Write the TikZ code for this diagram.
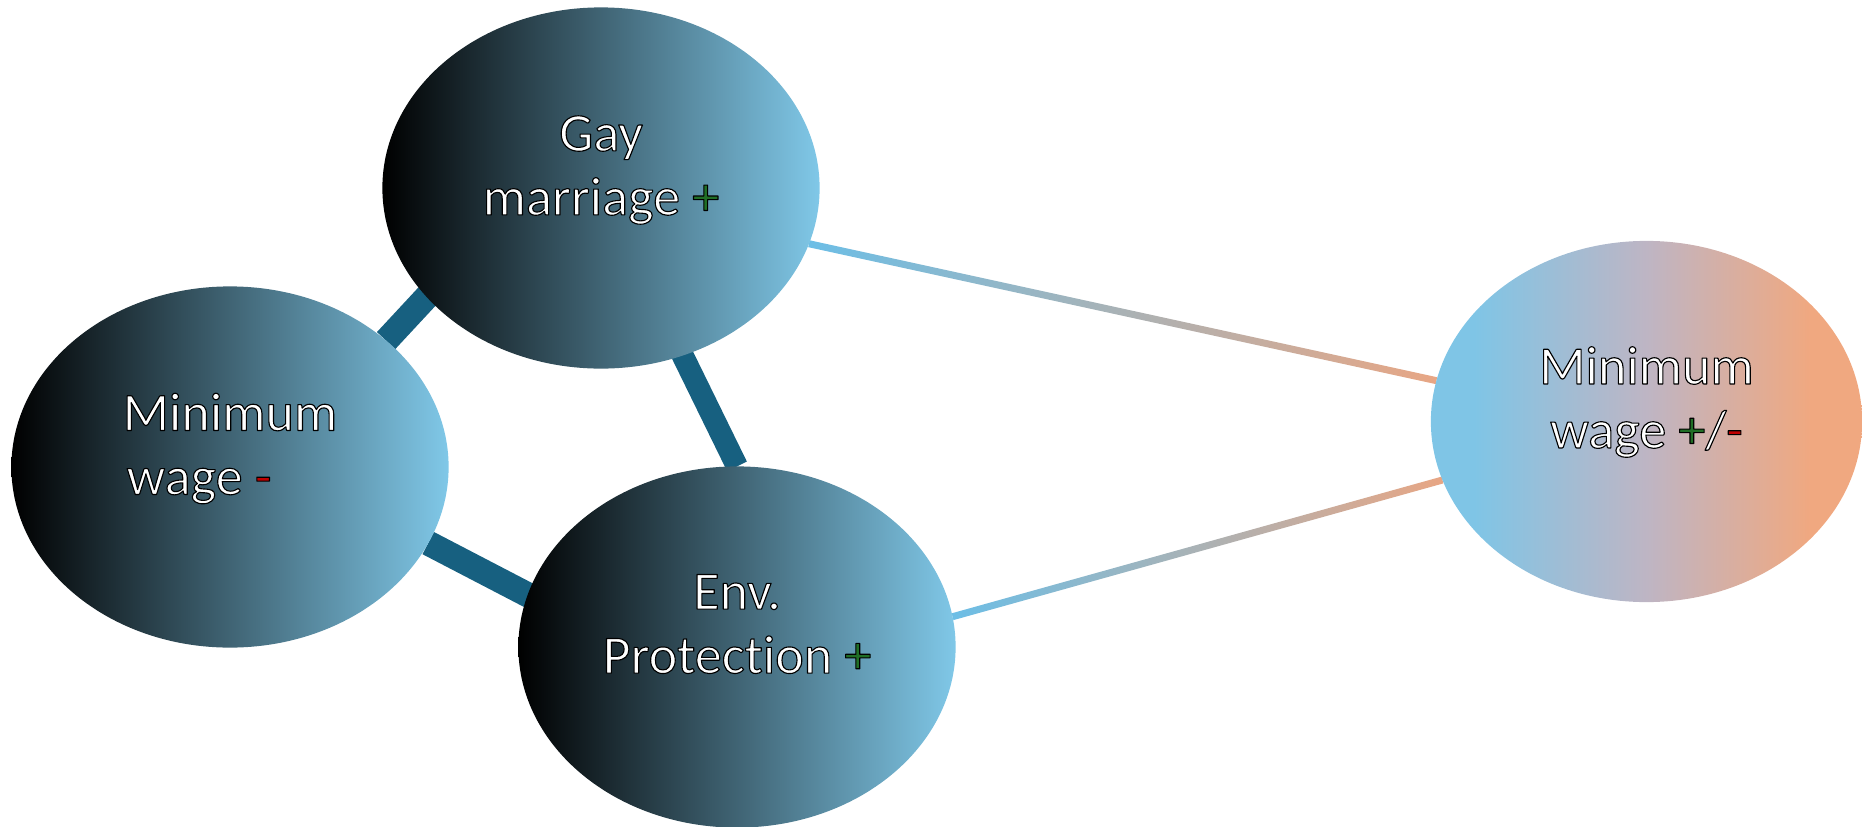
\documentclass[tikz,border=0pt]{standalone}
\usepackage{fontspec}
\newfontfamily\lblfont[Ligatures={NoCommon}]{Carlito}
\usetikzlibrary{shapes.geometric,calc,backgrounds}

\definecolor{bandteal}{RGB}{23,96,128}
\definecolor{skyblue}{RGB}{128,200,232}
\definecolor{rightblue}{RGB}{127,197,230}
\definecolor{rightmid}{RGB}{190,181,196}
\definecolor{salmon}{RGB}{240,168,128}
\definecolor{lineblue}{RGB}{108,190,230}
\definecolor{linemid}{RGB}{178,180,176}
\definecolor{linesalmon}{RGB}{232,166,132}
\definecolor{plusgreen}{RGB}{32,110,38}
\definecolor{minusred}{RGB}{192,0,0}

% blue-to-salmon fill of the mixed position (path spans 25bp..75bp)
\pgfdeclarehorizontalshading{mixshade}{100bp}{color(0bp)=(rightblue);
  color(30bp)=(rightblue); color(50bp)=(rightmid); color(69bp)=(salmon);
  color(100bp)=(salmon)}

% outlined text: fill in the given colour, thin black stroke round each glyph
\newcommand\olt[2]{\textcolor{#1}{\special{pdf:literal direct q 2 Tr 0.32 w 1 j 0 0 0 RG}#2\special{pdf:literal direct Q}}}

\begin{document}
\begin{tikzpicture}[x=0.01cm,y=-0.01cm,
  blob/.style={ellipse, minimum width=4.37cm, minimum height=3.61cm,
    inner sep=0pt, outer sep=0pt},
  darknode/.style={blob, left color=black, right color=skyblue},
  mixnode/.style={blob, minimum width=4.31cm, shading=mixshade},
  lbl/.style={align=center, inner sep=0pt,
    font=\lblfont\fontsize{15.4pt}{18.2pt}\selectfont},
  band/.style={draw=bandteal, line cap=butt},
  gradline/.style={left color=lineblue, middle color=linemid,
    right color=linesalmon}]

\useasboundingbox (0,0) rectangle (1862,827);

% issue positions
\node[darknode] (gm)  at (601,188) {};
\node[darknode] (mw1) at (230,467) {};
\node[darknode] (env) at (737,647) {};
\node[mixnode]  (mw2) at (1646.5,421.5) {};

% labels
\node[lbl] (gmT) at (601,170)
  {\olt{white}{Gay}\\ \olt{white}{marriage} \olt{plusgreen}{+}};
\node[lbl] (mw1T) at (230,448.5)
  {\olt{white}{Minimum}\\ \olt{white}{wage} \olt{minusred}{-}\hspace*{0.62cm}};
\node[lbl] (envT) at (737,624)
  {\olt{white}{Env.}\\ \olt{white}{Protection} \olt{plusgreen}{+}};
\node[lbl] (mw2T) at (1646.5,402)
  {\olt{white}{Minimum}\\ \olt{white}{wage} \olt{plusgreen}{+}\olt{white}{/}\olt{minusred}{-}};

% connectors
\begin{scope}[on background layer]
  \draw[band, line width=0.25cm, shorten >=-0.3cm] (mw1.39) -- (gm.212);
  \draw[band, line width=0.22cm, shorten <=-0.3cm] (gm.-64) -- (env.90);
  \draw[band, line width=0.25cm, shorten >=-0.3cm] (mw1.-21) -- (env.166);
  \shade[gradline]
    ($(gm.-15)!0.035cm!90:(mw2.169)$) -- ($(mw2.169)!0.035cm!-90:(gm.-15)$) --
    ($(mw2.169)!0.035cm!90:(gm.-15)$) -- ($(gm.-15)!0.035cm!-90:(mw2.169)$) -- cycle;
  \shade[gradline]
    ($(env.8)!0.035cm!90:(mw2.196)$) -- ($(mw2.196)!0.035cm!-90:(env.8)$) --
    ($(mw2.196)!0.035cm!90:(env.8)$) -- ($(env.8)!0.035cm!-90:(mw2.196)$) -- cycle;
\end{scope}
\end{tikzpicture}
\end{document}
